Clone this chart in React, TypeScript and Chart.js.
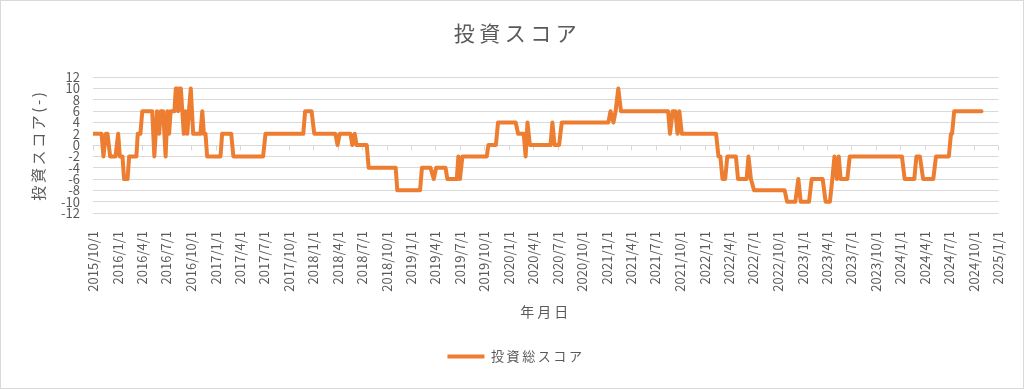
import React, { useEffect, useRef } from 'react';
import { Chart, registerables } from 'chart.js';

Chart.register(...registerables);

const FONT = '"Noto Sans CJK JP", "Noto Sans", sans-serif';
const TEXT_COLOR = '#595959';
const GRID_COLOR = '#d9d9d9';
const LINE_COLOR = '#ED7D31';

const chartTitle = '投資スコア';
const xAxisTitle = '年月日';
const yAxisTitle = '投資スコア(-)';
const seriesName = '投資総スコア';

const tickLabels = [
  '2015/10/1', '2016/1/1', '2016/4/1', '2016/7/1', '2016/10/1',
  '2017/1/1', '2017/4/1', '2017/7/1', '2017/10/1',
  '2018/1/1', '2018/4/1', '2018/7/1', '2018/10/1',
  '2019/1/1', '2019/4/1', '2019/7/1', '2019/10/1',
  '2020/1/1', '2020/4/1', '2020/7/1', '2020/10/1',
  '2021/1/1', '2021/4/1', '2021/7/1', '2021/10/1',
  '2022/1/1', '2022/4/1', '2022/7/1', '2022/10/1',
  '2023/1/1', '2023/4/1', '2023/7/1', '2023/10/1',
  '2024/1/1', '2024/4/1', '2024/7/1', '2024/10/1',
  '2025/1/1',
];

const scoreDates = [
  '2015-10-01', '2015-11-02', '2015-11-09', '2015-11-18', '2015-11-24', '2015-12-04', '2015-12-24',
  '2016-01-03', '2016-01-09', '2016-01-19', '2016-01-25', '2016-02-07', '2016-02-13', '2016-03-11',
  '2016-03-16', '2016-03-26', '2016-04-02', '2016-05-09', '2016-05-17', '2016-05-27', '2016-06-04',
  '2016-06-10', '2016-06-19', '2016-06-28', '2016-07-05', '2016-07-11', '2016-07-17', '2016-07-31',
  '2016-08-05', '2016-08-10', '2016-08-14', '2016-08-19', '2016-08-24', '2016-09-04', '2016-09-10',
  '2016-09-17', '2016-09-23', '2016-09-30', '2016-10-09', '2016-11-05', '2016-11-12', '2016-11-18',
  '2016-11-24', '2016-11-30', '2017-01-19', '2017-01-25', '2017-02-28', '2017-03-08', '2017-06-27',
  '2017-07-06', '2017-11-24', '2017-12-01', '2017-12-25', '2018-01-04', '2018-03-24', '2018-04-01',
  '2018-04-09', '2018-05-19', '2018-05-26', '2018-06-04', '2018-06-11', '2018-07-19', '2018-07-26',
  '2018-11-04', '2018-11-10', '2019-02-03', '2019-02-10', '2019-03-14', '2019-03-26', '2019-04-04',
  '2019-05-09', '2019-05-16', '2019-06-20', '2019-06-26', '2019-07-02', '2019-07-11', '2019-10-10',
  '2019-10-16', '2019-11-13', '2019-11-21', '2020-01-26', '2020-02-04', '2020-02-25', '2020-03-03',
  '2020-03-10', '2020-03-19', '2020-06-04', '2020-06-11', '2020-06-19', '2020-07-06', '2020-07-16',
  '2021-01-06', '2021-01-14', '2021-01-25', '2021-02-02', '2021-02-12', '2021-02-22', '2021-08-17',
  '2021-08-24', '2021-09-03', '2021-09-13', '2021-09-21', '2021-09-28', '2021-10-07', '2022-02-12',
  '2022-02-21', '2022-02-28', '2022-03-08', '2022-03-18', '2022-03-26', '2022-04-27', '2022-05-05',
  '2022-06-06', '2022-06-13', '2022-06-22', '2022-07-04', '2022-10-26', '2022-11-04', '2022-12-05',
  '2022-12-16', '2022-12-25', '2023-01-25', '2023-02-04', '2023-03-17', '2023-03-28', '2023-04-13',
  '2023-04-22', '2023-04-30', '2023-05-09', '2023-05-16', '2023-05-23', '2023-06-17', '2023-06-26',
  '2024-01-07', '2024-01-17', '2024-02-22', '2024-03-01', '2024-03-14', '2024-03-26', '2024-05-03',
  '2024-05-13', '2024-06-30', '2024-07-08', '2024-07-12', '2024-07-20', '2024-10-30',
];

const scoreValues = [
  2, 2, -2, 2, 2, -2, -2,
  2, -2, -2, -6, -6, -2, -2,
  2, 2, 6, 6, -2, 6, 2,
  6, 6, -2, 6, 2, 6, 6,
  10, 10, 6, 10, 10, 2, 6,
  2, 6, 10, 2, 2, 6, 2,
  2, -2, -2, 2, 2, -2, -2,
  2, 2, 6, 6, 2, 2, 0,
  2, 2, 0, 2, 0, 0, -4,
  -4, -8, -8, -4, -4, -6, -4,
  -4, -6, -6, -2, -6, -2, -2,
  0, 0, 4, 4, 2, 2, -2,
  4, 0, 0, 4, 0, 0, 4,
  4, 6, 4, 6, 10, 6, 6,
  2, 6, 6, 2, 6, 2, 2,
  -2, -2, -6, -6, -2, -2, -6,
  -6, -2, -6, -8, -8, -10, -10,
  -6, -10, -10, -6, -6, -10, -10,
  -6, -2, -6, -2, -6, -6, -2,
  -2, -6, -6, -2, -2, -6, -6,
  -2, -2, 2, 2, 6, 6,
];

const Y_MIN = -12;
const Y_MAX = 12;
const Y_STEP = 2;

const toDay = (s: string): number => {
  const [y, m, d] = s.split(/[-/]/).map(Number);
  return Date.UTC(y, m - 1, d) / 86400000;
};

const tickDays = tickLabels.map(toDay);

const zeroTicksPlugin = {
  id: 'zeroTicks',
  beforeDatasetsDraw(chart: any) {
    const { ctx, scales } = chart;
    const x = scales.x;
    const y = scales.y;
    const y0 = Math.round(y.getPixelForValue(0)) + 0.5;
    ctx.save();
    ctx.strokeStyle = GRID_COLOR;
    ctx.lineWidth = 1;
    x.ticks.forEach((t: any) => {
      const px = Math.round(x.getPixelForValue(t.value)) + 0.5;
      ctx.beginPath();
      ctx.moveTo(px, y0);
      ctx.lineTo(px, y0 + 5);
      ctx.stroke();
    });
    ctx.restore();
  },
};

const framePlugin = {
  id: 'frame',
  afterDraw(chart: any) {
    const { ctx, width, height } = chart;
    ctx.save();
    ctx.strokeStyle = GRID_COLOR;
    ctx.lineWidth = 1;
    ctx.strokeRect(0.5, 0.5, width - 1, height - 1);
    ctx.restore();
  },
};

// Wrap a text-drawing method so the canvas uses the wider character spacing of the original.
const wrapSpacing = (chart: any, obj: any, method: string, spacing: string, dx = 0) => {
  if (!obj || obj['__sp_' + method]) return;
  const orig = obj[method];
  obj[method] = function (...args: any[]) {
    const ctx = chart.ctx;
    ctx.save();
    ctx.letterSpacing = spacing;
    if (dx) ctx.translate(dx, 0);
    try {
      return orig.apply(this, args);
    } finally {
      ctx.restore();
    }
  };
  obj['__sp_' + method] = true;
};

const spacingPlugin = {
  id: 'spacing',
  beforeLayout(chart: any) {
    wrapSpacing(chart, chart.legend, 'fit', '2.6px');
  },
  afterLayout(chart: any) {
    wrapSpacing(chart, chart.legend, 'draw', '2.6px', 14.5);
    wrapSpacing(chart, chart.titleBlock, 'draw', '4.5px', 16);
    wrapSpacing(chart, chart.scales.x, 'drawTitle', '3px');
    wrapSpacing(chart, chart.scales.y, 'drawTitle', '2.6px');
  },
};

export default function App() {
  const canvasRef = useRef<HTMLCanvasElement | null>(null);

  useEffect(() => {
    document.body.style.margin = '0';
    const canvas = canvasRef.current;
    if (!canvas) return;
    const chart = new Chart(canvas, {
      type: 'line',
      data: {
        datasets: [
          {
            label: seriesName,
            data: scoreDates.map((d, i) => ({ x: toDay(d), y: scoreValues[i] })),
            borderColor: LINE_COLOR,
            backgroundColor: LINE_COLOR,
            borderWidth: 4,
            pointRadius: 0,
            pointHoverRadius: 0,
            tension: 0,
            borderJoinStyle: 'round',
            borderCapStyle: 'round',
          },
        ],
      },
      options: {
        animation: false,
        responsive: false,
        maintainAspectRatio: false,
        layout: { padding: { left: 0, right: 21, top: 0, bottom: 16 } },
        plugins: {
          title: {
            display: true,
            text: chartTitle,
            color: TEXT_COLOR,
            font: { family: FONT, size: 21, weight: 'normal' },
            padding: { top: 20, bottom: 32 },
          },
          legend: {
            position: 'bottom',
            labels: {
              usePointStyle: true,
              pointStyle: 'line',
              pointStyleWidth: 37,
              color: TEXT_COLOR,
              font: { family: FONT, size: 13 },
              padding: 27,
            },
          },
          tooltip: { enabled: false },
        },
        scales: {
          x: {
            type: 'linear',
            min: tickDays[0],
            max: tickDays[tickDays.length - 1],
            afterBuildTicks: (axis: any) => {
              axis.ticks = tickDays.map((v) => ({ value: v }));
            },
            afterFit: (s: any) => {
              s.height = 110;
            },
            grid: { display: false },
            border: { display: false },
            ticks: {
              autoSkip: false,
              maxRotation: 90,
              minRotation: 90,
              padding: 10,
              color: TEXT_COLOR,
              font: { family: FONT, size: 13 },
              callback: (_v: any, i: number) => tickLabels[i],
            },
            title: {
              display: true,
              text: xAxisTitle,
              color: TEXT_COLOR,
              font: { family: FONT, size: 14 },
              padding: { top: 0, bottom: 3 },
            },
          },
          y: {
            min: Y_MIN,
            max: Y_MAX,
            afterFit: (s: any) => {
              s.width = 93;
            },
            ticks: {
              stepSize: Y_STEP,
              autoSkip: false,
              padding: 13,
              color: TEXT_COLOR,
              font: { family: FONT, size: 13 },
            },
            grid: { color: GRID_COLOR, drawTicks: false, lineWidth: 1 },
            border: { display: false },
            title: {
              display: true,
              text: yAxisTitle,
              color: TEXT_COLOR,
              font: { family: FONT, size: 15 },
              padding: { top: 29, bottom: 0 },
            },
          },
        },
      },
      plugins: [zeroTicksPlugin, framePlugin, spacingPlugin],
    } as any);
    return () => chart.destroy();
  }, []);

  return (
    <div style={{ width: 1024, height: 389, background: '#fff' }}>
      <canvas ref={canvasRef} width={1024} height={389} style={{ display: 'block' }} />
    </div>
  );
}
